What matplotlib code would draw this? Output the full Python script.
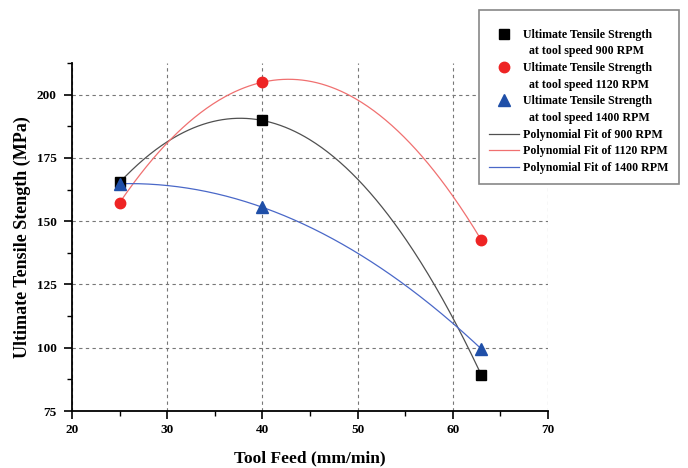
import numpy as np
import matplotlib
matplotlib.use("Agg")
import matplotlib.pyplot as plt
from matplotlib.ticker import MultipleLocator
from matplotlib.lines import Line2D

plt.rcParams['font.family'] = ['Liberation Serif', 'DejaVu Serif']
plt.rcParams['font.weight'] = 'bold'

feed = [25, 40, 63]
uts_900 = [165.3, 189.8, 89.2]
uts_1120 = [157.3, 204.9, 142.5]
uts_1400 = [164.8, 155.5, 99.5]

labels_pts = [("Ultimate Tensile Strength", "at tool speed 900 RPM"),
              ("Ultimate Tensile Strength", "at tool speed 1120 RPM"),
              ("Ultimate Tensile Strength", "at tool speed 1400 RPM")]
labels_fit = ["Polynomial Fit of 900 RPM",
              "Polynomial Fit of 1120 RPM",
              "Polynomial Fit of 1400 RPM"]

fig = plt.figure(figsize=(6.88, 4.68), dpi=100)
ax = fig.add_axes([72/688, 1-411/468, (548-72)/688, (411-63)/468])

xs = np.linspace(min(feed), max(feed), 300)
series = [uts_900, uts_1120, uts_1400]
mk = ['s', 'o', '^']
msz = [7, 7.5, 8]
mcol = ['#000000', '#ee2424', '#1f4fa8']
lcol = ['#505050', '#f07070', '#4a68c8']

handles_pts = []
handles_fit = []
for i, ys in enumerate(series):
    c = np.polyfit(feed, ys, 2)
    l, = ax.plot(xs, np.polyval(c, xs), color=lcol[i], lw=0.9, zorder=2)
    handles_fit.append(l)
for i, ys in enumerate(series):
    p, = ax.plot(feed, ys, linestyle='none', marker=mk[i], color=mcol[i],
                 markersize=msz[i], zorder=3)
    handles_pts.append(p)

ax.set_xlim(20, 70)
ax.set_ylim(75, 212.5)
ax.xaxis.set_major_locator(MultipleLocator(10))
ax.xaxis.set_minor_locator(MultipleLocator(5))
ax.yaxis.set_major_locator(MultipleLocator(25))
ax.yaxis.set_minor_locator(MultipleLocator(12.5))
ax.grid(True, which='major', linestyle=(0, (3, 3)), color='#777777', lw=0.8)
ax.set_axisbelow(True)
for s in ['top', 'right']:
    ax.spines[s].set_visible(False)
for s in ['left', 'bottom']:
    ax.spines[s].set_linewidth(1.3)
ax.tick_params(which='major', direction='out', length=6, width=1.2, labelsize=9.5)
ax.tick_params(axis='y', which='major', pad=5)
ax.tick_params(which='minor', direction='out', length=3.5, width=1.0)
for t in ax.get_xticklabels() + ax.get_yticklabels():
    t.set_fontweight('bold')

ax.set_xlabel("Tool Feed (mm/min)", fontsize=12.5, fontweight='bold', labelpad=10)
ax.set_ylabel("Ultimate Tensile Stength (MPa)", fontsize=13, fontweight='bold', labelpad=4)

blank = Line2D([], [], linestyle='none', marker=None)
leg_handles = []
leg_labels = []
for h, (l1, l2) in zip(handles_pts, labels_pts):
    leg_handles += [h, blank]
    leg_labels += [l1, "  " + l2]
leg_handles += handles_fit
leg_labels += labels_fit

leg = fig.legend(leg_handles, leg_labels,
                 loc='upper right', bbox_to_anchor=(679/688, 1-10/468),
                 borderaxespad=0, title=' ', title_fontproperties={'size': 3},
                 fancybox=False, edgecolor='#888888', framealpha=1,
                 prop={'family': 'Liberation Serif', 'weight': 'bold', 'size': 8.6},
                 borderpad=0.85, labelspacing=0.39, handlelength=2.5, handletextpad=0.35)
leg.get_frame().set_linewidth(1.2)

fig.savefig("out.png", dpi=100)
